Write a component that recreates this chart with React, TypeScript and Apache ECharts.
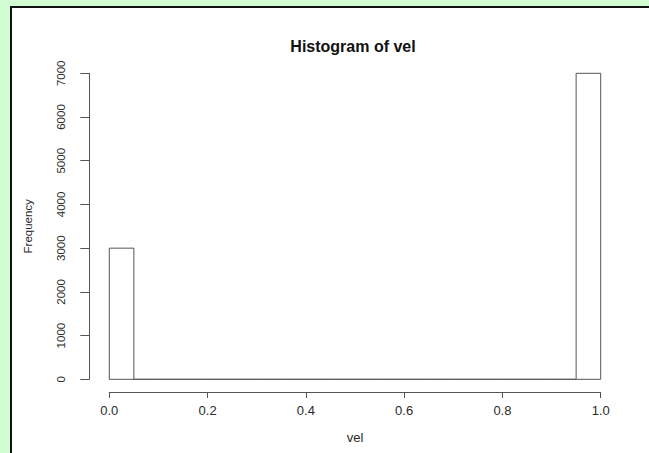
import React, { useEffect, useRef } from "react";
import * as echarts from "echarts";

const binStarts = [0, 0.05, 0.1, 0.15, 0.2, 0.25, 0.3, 0.35, 0.4, 0.45, 0.5, 0.55, 0.6, 0.65, 0.7, 0.75, 0.8, 0.85, 0.9, 0.95];
const binEnds = [0.05, 0.1, 0.15, 0.2, 0.25, 0.3, 0.35, 0.4, 0.45, 0.5, 0.55, 0.6, 0.65, 0.7, 0.75, 0.8, 0.85, 0.9, 0.95, 1.0];
const counts = [3000, 0, 0, 0, 0, 0, 0, 0, 0, 0, 0, 0, 0, 0, 0, 0, 0, 0, 0, 7000];
const xTicks = ["0.0", "0.2", "0.4", "0.6", "0.8", "1.0"];
const yTicks = ["0", "1000", "2000", "3000", "4000", "5000", "6000", "7000"];

const FONT = "'Liberation Sans', Arial, sans-serif";

export default function App() {
  const ref = useRef<HTMLDivElement>(null);
  useEffect(() => {
    if (!ref.current) return;
    const chart = echarts.init(ref.current, null, { renderer: "svg" });
    const data = binStarts.map((s, i) => [s, binEnds[i], counts[i]]);
    chart.setOption({
      animation: false,
      backgroundColor: "#d2fdd2",
      graphic: [
        {
          type: "rect",
          z: -10,
          silent: true,
          shape: { x: 11, y: 7, width: 700, height: 500 },
          style: { fill: "#ffffff", stroke: "#111111", lineWidth: 2 },
        },
        {
          type: "text",
          z: 10,
          x: 353,
          y: 46,
          style: {
            text: "Histogram of vel",
            fill: "#111111",
            font: `bold 16px ${FONT}`,
            textAlign: "center",
            textVerticalAlign: "middle",
          },
        },
      ],
      grid: { left: 109.3, right: 48.3, top: 73.3, bottom: 73.7, containLabel: false },
      xAxis: {
        type: "value",
        min: 0,
        max: 1,
        interval: 0.2,
        offset: 12.7,
        name: "vel",
        nameLocation: "middle",
        nameGap: 39,
        nameTextStyle: { color: "#2a2a2a", fontSize: 13, fontFamily: FONT },
        axisLine: { show: true, onZero: false, lineStyle: { color: "#555", width: 1 } },
        axisTick: { show: true, length: 6, lineStyle: { color: "#555" } },
        axisLabel: {
          margin: 12,
          color: "#2a2a2a",
          fontSize: 13,
          fontFamily: FONT,
          formatter: (v: number) => xTicks[Math.round(v / 0.2)] ?? "",
        },
        splitLine: { show: false },
      },
      yAxis: {
        type: "value",
        min: 0,
        max: 7000,
        interval: 1000,
        offset: 20,
        name: "Frequency",
        nameLocation: "middle",
        nameGap: 55,
        nameTextStyle: { color: "#2a2a2a", fontSize: 11.5, fontFamily: FONT },
        axisLine: { show: true, onZero: false, lineStyle: { color: "#555", width: 1 } },
        axisTick: { show: true, length: 9, lineStyle: { color: "#555" } },
        axisLabel: {
          rotate: 90,
          margin: 22,
          color: "#2a2a2a",
          fontSize: 11.5,
          fontFamily: FONT,
          formatter: (v: number) => yTicks[Math.round(v / 1000)] ?? "",
        },
        splitLine: { show: false },
      },
      series: [
        {
          type: "custom",
          data,
          encode: { x: [0, 1], y: 2 },
          renderItem: (params: any, api: any) => {
            const p0 = api.coord([api.value(0), 0]);
            const p1 = api.coord([api.value(1), api.value(2)]);
            return {
              type: "polygon",
              shape: {
                points: [
                  [p0[0], p0[1]],
                  [p0[0], p1[1]],
                  [p1[0], p1[1]],
                  [p1[0], p0[1]],
                ],
              },
              style: { fill: "#ffffff", stroke: "#555555", lineWidth: 1 },
            };
          },
        },
      ],
    });
    return () => chart.dispose();
  }, []);
  return (
    <div
      ref={ref}
      style={{ position: "fixed", left: 0, top: 0, width: 649, height: 453 }}
    />
  );
}
